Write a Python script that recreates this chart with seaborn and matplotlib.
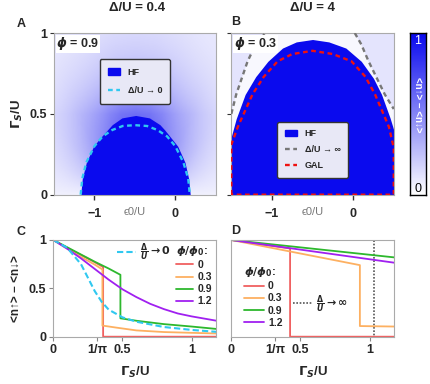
import numpy as np
import matplotlib
matplotlib.use("Agg")
import matplotlib.pyplot as plt
import seaborn as sns
from matplotlib.colors import LinearSegmentedColormap
from matplotlib.lines import Line2D
from matplotlib.patches import Patch
from matplotlib.path import Path

# ---- panel A (Delta/U = 0.4, phi = 0.9): HF dome and Delta/U -> 0 boundary
a_hf_x = [-1.17, -1.15, -1.10, -1.01, -0.93, -0.84, -0.78, -0.66, -0.49,
          -0.32, -0.19, -0.13, -0.05, 0.03, 0.12, 0.165, 0.185]
a_hf_y = [0.0, 0.1, 0.2, 0.3, 0.35, 0.4, 0.433, 0.475, 0.49,
          0.475, 0.433, 0.4, 0.35, 0.3, 0.2, 0.1, 0.0]
a_zero_x = [-1.17, -1.15, -1.10, -1.0, -0.9, -0.78, -0.65, -0.5, -0.35,
            -0.22, -0.1, 0.0, 0.1, 0.16, 0.18]
a_zero_y = [0.0, 0.1, 0.2, 0.3, 0.36, 0.40, 0.425, 0.43, 0.425,
            0.40, 0.36, 0.3, 0.2, 0.1, 0.0]

# ---- panel B (Delta/U = 4, phi = 0.3)
b_hf_x = [-1.5, -1.44, -1.33, -1.2, -1.05, -0.87, -0.7, -0.5, -0.3, -0.09,
          0.1, 0.25, 0.35, 0.455, 0.5]
b_hf_y = [0.36, 0.47, 0.62, 0.73, 0.825, 0.907, 0.945, 0.96, 0.945, 0.907,
          0.825, 0.72, 0.62, 0.474, 0.40]
b_gal_x = [-1.5, -1.5, -1.42, -1.24, -1.1, -0.93, -0.75, -0.5, -0.25, -0.02,
           0.15, 0.27, 0.44, 0.5, 0.5, -1.5]
b_gal_y = [0.0, 0.31, 0.42, 0.62, 0.73, 0.825, 0.87, 0.89, 0.87, 0.825,
           0.73, 0.62, 0.42, 0.29, 0.0, 0.0]
b_inf_left_x = [-1.5, -1.44, -1.3, -1.2, -1.08]
b_inf_left_y = [0.5, 0.62, 0.825, 0.93, 1.0]
b_inf_right_x = [0.02, 0.1, 0.19, 0.39, 0.5]
b_inf_right_y = [1.0, 0.93, 0.825, 0.62, 0.53]

# ---- panel C (Delta/U = 0.4): <n_up> - <n_down> vs Gamma_S/U
c_red_x = [0, 0.1, 0.2, 0.3, 0.36, 0.36, 1.18]
c_red_y = [1, 0.92, 0.845, 0.77, 0.72, 0.0, 0.0]
c_orange_x = [0, 0.1, 0.2, 0.3, 0.355, 0.355, 0.45, 0.6, 0.8, 1.0, 1.18]
c_orange_y = [1, 0.91, 0.825, 0.745, 0.695, 0.115, 0.095, 0.065, 0.048, 0.04, 0.033]
c_green_x = [0, 0.1, 0.2, 0.3, 0.4, 0.485, 0.485, 0.6, 0.8, 1.0, 1.18]
c_green_y = [1, 0.925, 0.85, 0.775, 0.705, 0.64, 0.19, 0.165, 0.13, 0.105, 0.08]
c_purple_x = [0, 0.1, 0.2, 0.3, 0.4, 0.5, 0.6, 0.7, 0.8, 0.9, 1.0, 1.1, 1.18]
c_purple_y = [1, 0.91, 0.81, 0.7, 0.59, 0.49, 0.41, 0.34, 0.285, 0.24, 0.21, 0.185, 0.165]
c_zero_x = [0, 0.1, 0.2, 0.3, 0.35, 0.4, 0.5, 0.6, 0.8, 1.0, 1.18]
c_zero_y = [1, 0.92, 0.75, 0.47, 0.36, 0.28, 0.2, 0.155, 0.1, 0.07, 0.05]

# ---- panel D (Delta/U = 4)
d_red_x = [0, 0.425, 0.425, 1.18]
d_red_y = [1, 0.912, 0.0, 0.0]
d_orange_x = [0, 0.93, 0.93, 1.18]
d_orange_y = [1, 0.74, 0.11, 0.105]
d_green_x = [0, 1.18]
d_green_y = [1, 0.82]
d_purple_x = [0, 1.18]
d_purple_y = [1, 0.765]
d_inf_x = [0, 1.03, 1.03, 1.18]
d_inf_y = [1, 1, 0, 0]

flux_labels = ['0', '0.3', '0.9', '1.2']

sns.set_theme(style="white")
plt.rcParams['font.family'] = ['Liberation Sans', 'DejaVu Sans']
plt.rcParams['font.weight'] = 'bold'
plt.rcParams['axes.labelweight'] = 'bold'
plt.rcParams['mathtext.fontset'] = 'dejavusans'

blue = '#0a0aee'
red = '#f06060'
orange = '#fdb061'
green = '#2db82d'
purple = '#a020f0'
cyan = '#30c8f0'
spine_col = '#aaaaaa'
cmap = LinearSegmentedColormap.from_list('wb', ['white', blue])

fig = plt.figure(figsize=(4.3, 3.84), dpi=100)
axA = fig.add_axes([0.1256, 0.493, 0.376, 0.421])
axB = fig.add_axes([0.538, 0.493, 0.3777, 0.421])
axCb = fig.add_axes([0.9535, 0.492, 0.0365, 0.421])
axC = fig.add_axes([0.124, 0.1232, 0.378, 0.2518])
axD = fig.add_axes([0.538, 0.1232, 0.3777, 0.2518])


def seg_dist(X, Y, xs, ys):
    d = np.full(X.shape, np.inf)
    for x0, y0, x1, y1 in zip(xs[:-1], ys[:-1], xs[1:], ys[1:]):
        dx, dy = x1 - x0, y1 - y0
        t = np.clip(((X - x0) * dx + (Y - y0) * dy) / (dx * dx + dy * dy), 0, 1)
        d = np.minimum(d, np.hypot(X - x0 - t * dx, Y - y0 - t * dy))
    return d


gx = np.linspace(-1.5, 0.5, 300)
gy = np.linspace(0, 1, 200)
X, Y = np.meshgrid(gx, gy)

# background haze around the HF region
hazeA = 0.06 + 0.55 * np.exp(-seg_dist(X, Y, a_hf_x, a_hf_y) / 0.3) * np.clip(Y / 0.5, 0, 1)
axA.imshow(hazeA, extent=(-1.5, 0.5, 0, 1), origin='lower', aspect='auto',
           cmap=cmap, vmin=0, vmax=1, zorder=0)
axA.fill_between(a_hf_x, a_hf_y, 0, color=blue, lw=0, zorder=1)
sns.lineplot(x=a_zero_x, y=a_zero_y, estimator=None, sort=False, color=cyan,
             lw=1.7, linestyle=(0, (2, 1.5)), ax=axA, zorder=3)

poly = list(zip(b_inf_left_x, b_inf_left_y)) + list(zip(b_inf_right_x, b_inf_right_y)) + [(0.5, 0), (-1.5, 0)]
inside = Path(poly).contains_points(np.c_[X.ravel(), Y.ravel()]).reshape(X.shape)
hazeB = np.where(inside, 0.03, 0.11)
axB.imshow(hazeB, extent=(-1.5, 0.5, 0, 1), origin='lower', aspect='auto',
           cmap=cmap, vmin=0, vmax=1, zorder=0)
axB.fill_between(b_hf_x, b_hf_y, 0, color=blue, lw=0, zorder=1)
for xs, ys in [(b_inf_left_x, b_inf_left_y), (b_inf_right_x, b_inf_right_y)]:
    sns.lineplot(x=xs, y=ys, estimator=None, sort=False, color='#777777',
                 lw=1.7, linestyle=(0, (2, 1.5)), ax=axB, zorder=3)
sns.lineplot(x=b_gal_x, y=b_gal_y, estimator=None, sort=False, color='#ee1111',
             lw=1.7, linestyle=(0, (2, 1.5)), ax=axB, zorder=3)

for ax in (axA, axB):
    ax.set_xlim(-1.5, 0.5)
    ax.set_ylim(0, 1)
    ax.set_xticks([-1, 0])
    ax.set_xticklabels(['\u22121', '0'])
    ax.set_yticks([0, 0.5, 1])
    ax.tick_params(axis='x', direction='inout', length=7, width=1, color='#333333',
                   pad=6, labelsize=9, bottom=True)
    ax.tick_params(axis='y', direction='out', length=3, width=0.8, color='#333333',
                   pad=2, labelsize=9, left=True)
    for s in ax.spines.values():
        s.set_color(spine_col)
        s.set_linewidth(0.8)
    ax.set_xlabel('')
    ax.text(0.5, -0.105, '\u03f50/U', transform=ax.transAxes, ha='center', va='center',
            color='#777777', fontsize=8, fontweight='normal')

axA.set_yticklabels(['0', '0.5', '1'])
axB.set_yticklabels([])
axA.set_ylabel('$\\Gamma_S$/U', fontsize=9.5, labelpad=3)

axA.text(0.015, 0.985, '$\\phi$ = 0.9', transform=axA.transAxes, ha='left', va='top',
         fontsize=9, bbox=dict(fc='white', ec='none', pad=0.5), zorder=5)
axB.text(0.015, 0.985, '$\\phi$ = 0.3', transform=axB.transAxes, ha='left', va='top',
         fontsize=9, bbox=dict(fc='white', ec='none', pad=0.5), zorder=5)

legA = axA.legend(handles=[Patch(color=blue, label='HF'),
                           Line2D([], [], color=cyan, lw=1.7, ls=(0, (2, 1.5)), label='\u0394/U \u2192 0')],
                  loc='center', bbox_to_anchor=(0.5, 0.70), fontsize=6.5, handlelength=1.4,
                  borderpad=0.9, labelspacing=1.1, fancybox=True, framealpha=1,
                  facecolor='#e8e8f6', edgecolor='#333333')
legA.get_frame().set_linewidth(1)
legA.set_zorder(6)
legB = axB.legend(handles=[Patch(color=blue, label='HF'),
                           Line2D([], [], color='#777777', lw=1.7, ls=(0, (2, 1.5)), label='\u0394/U \u2192 \u221e'),
                           Line2D([], [], color='#ee1111', lw=1.7, ls=(0, (2, 1.5)), label='GAL')],
                  loc='center', bbox_to_anchor=(0.5, 0.278), fontsize=6.5, handlelength=1.4,
                  borderpad=0.8, labelspacing=0.8, fancybox=True, framealpha=1,
                  facecolor='#e8e8f6', edgecolor='#333333')
legB.get_frame().set_linewidth(1)
legB.set_zorder(6)

# colorbar
axCb.imshow(np.linspace(0, 1, 200)[:, None], origin='lower', aspect='auto', cmap=cmap,
            vmin=0, vmax=1, extent=(0, 1, 0, 1))
axCb.set_xticks([])
axCb.set_yticks([])
for s in axCb.spines.values():
    s.set_color('black')
    s.set_linewidth(1)
axCb.text(0.5, 0.955, '1', transform=axCb.transAxes, ha='center', va='center',
          color='white', fontsize=9, fontweight='normal')
axCb.text(0.5, 0.04, '0', transform=axCb.transAxes, ha='center', va='center',
          color='black', fontsize=9, fontweight='normal')
axCb.text(0.5, 0.56, '<n\u2191> \u2212 <n\u2193>', transform=axCb.transAxes, ha='center',
          va='center', rotation=-90, color='white', fontsize=7)

# panels C and D
for xs, ys, col in [(c_red_x, c_red_y, red), (c_orange_x, c_orange_y, orange),
                    (c_green_x, c_green_y, green), (c_purple_x, c_purple_y, purple)]:
    sns.lineplot(x=xs, y=ys, estimator=None, sort=False, color=col, lw=1.3, ax=axC)
sns.lineplot(x=c_zero_x, y=c_zero_y, estimator=None, sort=False, color=cyan, lw=1.5,
             linestyle=(0, (3, 1.5)), ax=axC)

sns.lineplot(x=d_inf_x, y=d_inf_y, estimator=None, sort=False, color='#555555', lw=1.2,
             linestyle=(0, (1, 1)), ax=axD)
for xs, ys, col in [(d_red_x, d_red_y, red), (d_orange_x, d_orange_y, orange),
                    (d_green_x, d_green_y, green), (d_purple_x, d_purple_y, purple)]:
    sns.lineplot(x=xs, y=ys, estimator=None, sort=False, color=col, lw=1.3, ax=axD)

for ax in (axC, axD):
    ax.set_xlim(0, 1.175)
    ax.set_ylim(0, 1)
    ax.set_xticks([0, 1 / np.pi, 0.5, 1])
    ax.set_xticklabels(['0', '1/\u03c0', '0.5', '1'])
    ax.set_yticks([0, 0.5, 1])
    ax.tick_params(axis='both', direction='out', length=3, width=0.8, color='#888888',
                   pad=2, labelsize=9, bottom=True, left=True)
    for s in ax.spines.values():
        s.set_color(spine_col)
        s.set_linewidth(0.8)
    ax.set_xlabel('$\\Gamma_S$/U', fontsize=9.5, labelpad=7)

axC.set_yticklabels(['0', '0.5', '1'])
axD.set_yticklabels([])
axD.tick_params(axis='y', length=0)
axC.set_ylabel('<n\u2191> \u2212 <n\u2193>', fontsize=8.5, labelpad=5)

flux_handles = [Line2D([], [], color=c, lw=1.3, label=l)
                for c, l in zip([red, orange, green, purple], flux_labels)]

legC0 = axC.legend(handles=[Line2D([], [], color=cyan, lw=1.5, ls=(0, (3, 1.5)),
                                   label='$\\frac{\\Delta}{U}\\rightarrow 0$')],
                   loc='center left', bbox_to_anchor=(0.33, 0.87), frameon=False,
                   fontsize=8, handlelength=1.7, handletextpad=0.4)
axC.add_artist(legC0)
legC = axC.legend(handles=flux_handles, title='$\\phi/\\phi_0$:', loc='upper left',
                  bbox_to_anchor=(0.7, 1.06), frameon=False, fontsize=7.5,
                  title_fontsize=8, handlelength=1.6, handletextpad=0.4,
                  labelspacing=0.2, alignment='left')

legD0 = axD.legend(handles=[Line2D([], [], color='#555555', lw=1.2, ls=(0, (1, 1)),
                                   label='$\\frac{\\Delta}{U}\\rightarrow \\infty$')],
                   loc='center left', bbox_to_anchor=(0.32, 0.34), frameon=False,
                   fontsize=8, handlelength=1.7, handletextpad=0.3)
axD.add_artist(legD0)
legD = axD.legend(handles=flux_handles, title='$\\phi/\\phi_0$:', loc='upper left',
                  bbox_to_anchor=(0.02, 0.84), frameon=False, fontsize=7.5,
                  title_fontsize=8, handlelength=1.9, handletextpad=0.4,
                  labelspacing=0.2, alignment='left')

# titles and panel letters
fig.text(137 / 430, 1 - 8 / 384, '\u0394/U = 0.4', ha='center', va='center', fontsize=9.5)
fig.text(312 / 430, 1 - 8 / 384, '\u0394/U = 4', ha='center', va='center', fontsize=9.5)
for lbl, px, py in [('A', 21, 24), ('B', 236, 22), ('C', 21, 232), ('D', 236, 231)]:
    fig.text(px / 430, 1 - py / 384, lbl, ha='center', va='center', fontsize=9)

fig.savefig('out.png', dpi=100)
